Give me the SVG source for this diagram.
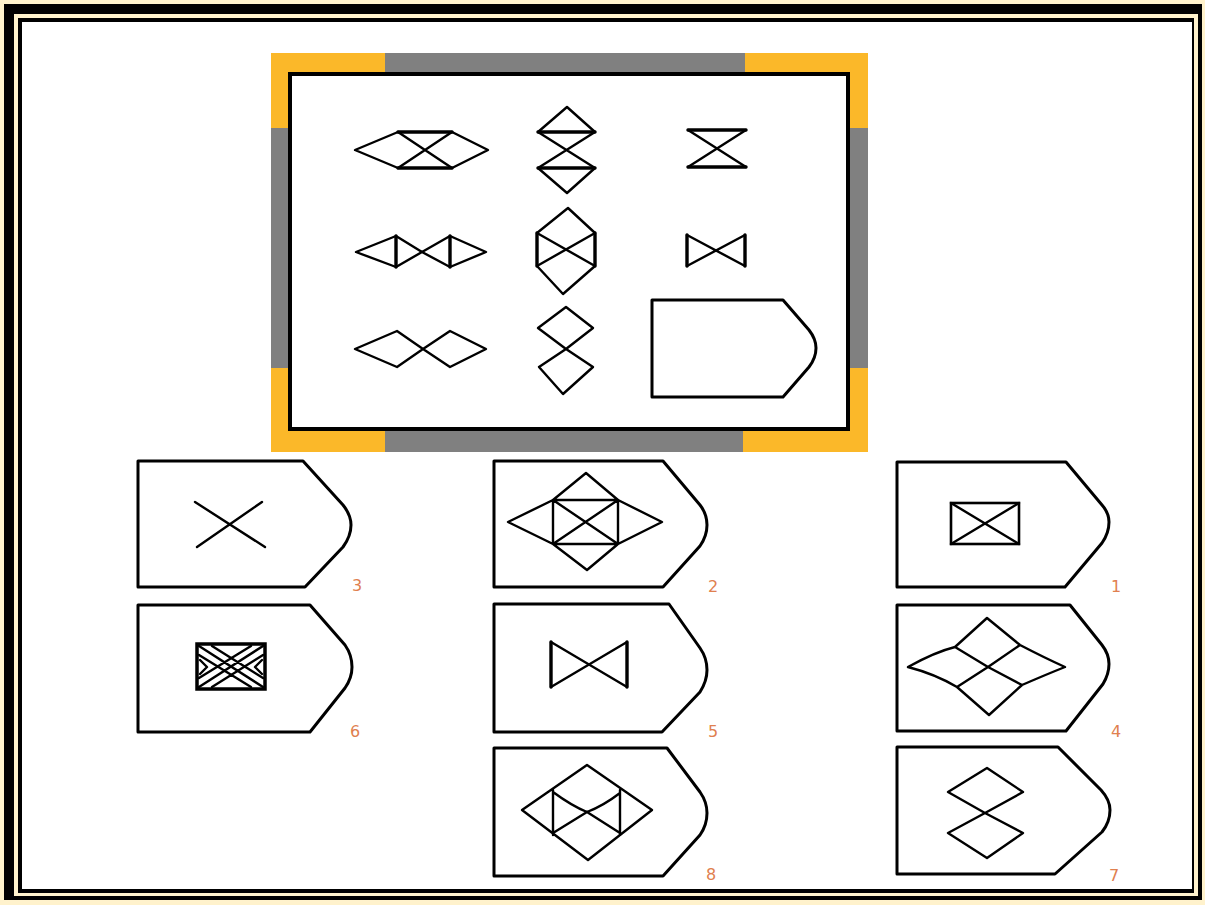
<svg xmlns="http://www.w3.org/2000/svg" width="1205" height="905" viewBox="0 0 1205 905">
<style>
.ln{fill:none;stroke:#000;stroke-width:2.4;stroke-linejoin:round;stroke-linecap:round}
.bar{fill:none;stroke:#000;stroke-width:3.4;stroke-linecap:round}
.card{fill:#fff;stroke:#000;stroke-width:3;stroke-linejoin:round}
.num{font-family:"DejaVu Sans",sans-serif;font-size:16px;fill:#e0804f}
</style>
<g id="page-border">
<rect x="0" y="0" width="1205" height="905" fill="#fff2cc"/>
<rect x="4" y="4" width="1198" height="896" fill="#000"/>
<rect x="14" y="14" width="1184" height="882" fill="#fff2cc"/>
<rect x="18" y="18" width="1176" height="875" fill="#000"/>
<rect x="22" y="22" width="1170" height="867" fill="#fff"/>
</g>
<g id="matrix-frame">
<rect x="271" y="53" width="597" height="399" fill="#808080"/>
<rect x="271" y="53" width="114" height="75" fill="#fbb829"/>
<rect x="271" y="368" width="114" height="84" fill="#fbb829"/>
<rect x="745" y="53" width="123" height="75" fill="#fbb829"/>
<rect x="743" y="368" width="125" height="84" fill="#fbb829"/>
<rect x="290" y="74" width="558" height="355" fill="#fff" stroke="#000" stroke-width="4"/>
</g>
<g id="m11">
<path class="ln" d="M398,132 L355,150 L398,168 M452,132 L488,150 L452,168 M398,132 L452,168 M452,132 L398,168"/>
<path class="bar" d="M398,132 H452 M398,168 H452"/>
</g>
<g id="m12">
<path class="ln" d="M538,132 L567,107 L595,132 M538,168 L567,193 L595,168 M538,132 L595,168 M595,132 L538,168"/>
<path class="bar" d="M538,132 H595 M538,168 H595"/>
</g>
<g id="m13">
<path class="ln" d="M688,130 L746,167 M746,130 L688,167"/>
<path class="bar" d="M688,130 H746 M688,167 H746"/>
</g>
<g id="m21">
<path class="ln" d="M396,236 L356,252 L396,267 M396,236 L422,252 L396,267 M450,236 L422,252 L450,267 M450,236 L486,252 L450,267"/>
<path class="bar" d="M396,236 V267 M450,236 V267"/>
</g>
<g id="m22">
<path class="ln" d="M537,233 L568,208 L595,233 M537,266 L563,294 L595,266 M537,233 L595,266 M595,233 L537,266"/>
<path class="bar" d="M537,233 V266 M595,233 V266"/>
</g>
<g id="m23">
<path class="ln" d="M687,235 L745,266 M745,235 L687,266"/>
<path class="bar" d="M687,235 V266 M745,235 V266"/>
</g>
<g id="m31">
<path class="ln" d="M355,349 L397,331 L423,349 L397,367 Z M423,349 L450,331 L486,349 L450,367 Z"/>
</g>
<g id="m32">
<path class="ln" d="M566,307 L593,328 L566,349 L538,328 Z M566,349 L593,367 L563,394 L539,367 Z"/>
</g>
<g id="m33">
<path class="card" d="M652,300 H783 L809,330 Q816,339 816,348 Q816,358 809,367 L783,397 H652 Z"/>
</g>
<g id="opt3">
<path class="card" d="M138,461 H303 L343,505 Q351,515 351,525 Q351,536 343,547 L305,587 H138 Z"/>
<path class="ln" d="M195,502 L265,547 M262,502 L197,547"/>
<text class="num" x="352" y="591">3</text>
</g>
<g id="opt6">
<path class="card" d="M138,605 H310 L345,645 Q352,655 352,667 Q352,678 345,688 L310,732 H138 Z"/>
<rect x="197" y="644" width="68" height="45" fill="#fff" stroke="#000" stroke-width="3.5"/>
<path class="ln" stroke-width="1.8" d="M199,646 L263,687 M263,646 L199,687 M212,646 L263,678 M199,655 L251,687 M251,646 L199,678 M263,655 L212,687 M200,660 L207,667 L200,674 M262,660 L255,667 L262,674"/>
<text class="num" x="350" y="737">6</text>
</g>
<g id="opt2">
<path class="card" d="M494,461 H663 L700,505 Q707,514 707,525 Q707,536 700,546 L663,587 H494 Z"/>
<path class="ln" d="M508,522 L553,500 L586,473 L618,500 L662,522 L618,544 L587,570 L553,544 Z M553,500 H618 V544 H553 Z M553,500 L618,544 M618,500 L553,544"/>
<text class="num" x="708" y="592">2</text>
</g>
<g id="opt5">
<path class="card" stroke-width="1.8" d="M494,604 H669 L700,648 Q707,658 707,670 Q707,681 700,692 L662,732 H494 Z"/>
<path class="ln" d="M551,642 L627,687 M627,642 L551,687"/>
<path class="bar" d="M551,642 V687 M627,642 V687"/>
<text class="num" x="708" y="737">5</text>
</g>
<g id="opt8">
<path class="card" d="M494,748 H667 L700,792 Q707,802 707,813 Q707,825 700,835 L663,876 H494 Z"/>
<path class="ln" d="M522,810 L587,765 L652,810 L588,860 Z M553,790 V835 M620,790 V835 M553,792 Q572,806 587,812 Q603,806 620,793 M587,812 L620,833 M587,812 L553,833"/>
<text class="num" x="706" y="880">8</text>
</g>
<g id="opt1">
<path class="card" d="M897,462 H1066 L1102,505 Q1109,513 1109,522 Q1109,533 1102,543 L1065,587 H897 Z"/>
<rect x="951" y="503" width="68" height="41" fill="none" stroke="#000" stroke-width="2.6"/>
<path class="ln" d="M951,503 L1019,544 M1019,503 L951,544"/>
<text class="num" x="1111" y="592">1</text>
</g>
<g id="opt4">
<path class="card" d="M897,605 H1070 L1102,645 Q1109,654 1109,664 Q1109,674 1103,684 L1066,731 H897 Z"/>
<path class="ln" d="M908,667 Q935,652 955,647 L987,618 L1020,645 Q1045,658 1065,667 Q1045,675 1022,685 L989,715 L957,687 Q935,674 908,667 Z M955,647 L988,667 L1022,685 M1020,645 L988,667 L957,687"/>
<text class="num" x="1111" y="737">4</text>
</g>
<g id="opt7">
<path class="card" d="M897,747 H1058 L1101,790 Q1110,800 1110,810 Q1110,822 1102,832 L1055,874 H897 Z"/>
<path class="ln" d="M987,768 L1023,792 L985,813 L948,792 Z M985,813 L1023,833 L987,858 L948,833 Z"/>
<text class="num" x="1109" y="881">7</text>
</g>
</svg>
